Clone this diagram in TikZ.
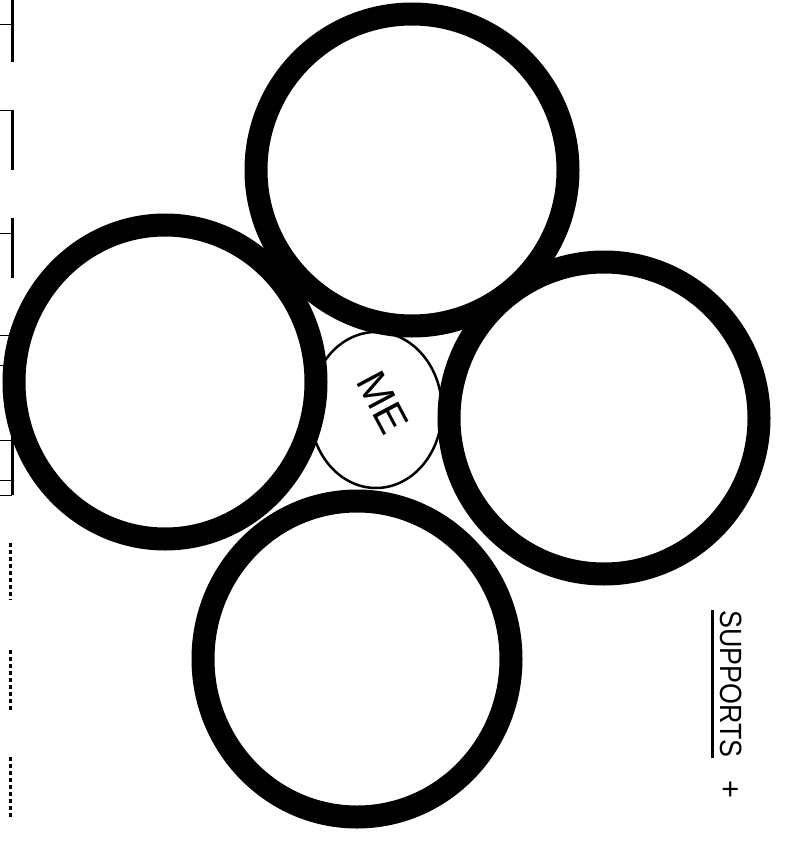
\documentclass[tikz,border=0pt]{standalone}
\usepackage{fontspec}
\setmainfont{Liberation Sans}
\usepackage{graphicx}
\usetikzlibrary{shapes.geometric}

\begin{document}
\begin{tikzpicture}[x=1pt, y=-1pt,
    ring/.style={draw, line width=23pt, ellipse, inner sep=0pt},
    mering/.style={draw, line width=2.5pt, ellipse, inner sep=0pt},
    scanmark/.style={line width=3pt}]
  \useasboundingbox (0,0) rectangle (794,843);

  % Scanner marks along the left edge
  \foreach \ya/\yb in {0/62, 110/170, 218/278, 335/495}
    \draw[scanmark] (12,\ya) -- (12,\yb);
  \foreach \yt in {25, 110, 233, 335, 365, 440, 480, 495}
    \draw[line width=1pt] (0,\yt) -- (12,\yt);
  \foreach \ya/\yb in {543/600, 650/710, 757/817}
    \draw[scanmark, dash pattern=on 4pt off 3pt] (10,\ya) -- (10,\yb);

  % Small circle in the middle
  \node[mering, minimum width=132pt, minimum height=156pt] (me) at (376,410) {};
  \node[inner sep=0pt, font=\fontsize{42}{42}\selectfont] (melabel) at (383,403)
    {\rotatebox{-62}{ME}};

  % Four supports round it
  \node[ring, minimum width=312pt, minimum height=312pt] (top) at (412,170) {};
  \node[ring, minimum width=302pt, minimum height=314pt] (left) at (165,382) {};
  \node[ring, minimum width=310pt, minimum height=312pt] (right) at (604,418) {};
  \node[ring, minimum width=308pt, minimum height=316pt] (bottom) at (357,659) {};

  % Label at the lower right
  \node[rotate=-90, inner sep=0pt, font=\fontsize{30.7}{30.7}\selectfont] (sup) at (731,684) {\scalebox{0.875}[1]{SUPPORTS}};
  \draw[line width=3pt] ([xshift=-7pt]sup.south west) -- ([xshift=-7pt]sup.south east);
  \node[rotate=-90, inner sep=0pt, font=\fontsize{30.7}{30.7}\selectfont] (plus) at (729.5,789) {+};
\end{tikzpicture}
\end{document}
